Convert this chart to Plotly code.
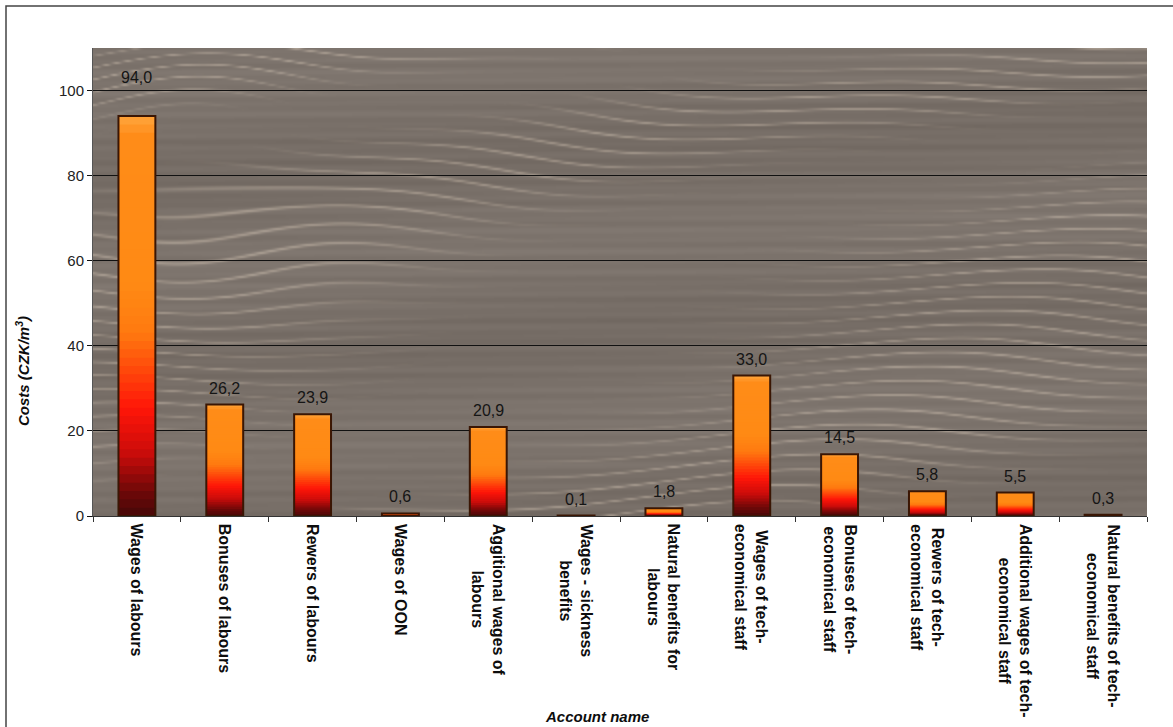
import base64
import struct
import zlib

import numpy as np
import plotly.graph_objects as go

# ---- data -------------------------------------------------------------
accounts = [
    "Wages of labours",
    "Bonuses of labours",
    "Rewers of labours",
    "Wages of OON",
    "Aggitional wages of\nlabours",
    "Wages - sickness\nbenefits",
    "Natural benefits for\nlabours",
    "Wages of tech-\neconomical staff",
    "Bonuses of tech-\neconomical staff",
    "Rewers of tech-\neconomical staff",
    "Additional wages of tech-\neconomical staff",
    "Natural benefits of tech-\neconomical staff",
]
costs = [94.0, 26.2, 23.9, 0.6, 20.9, 0.1, 1.8, 33.0, 14.5, 5.8, 5.5, 0.3]
y_ticks = [0, 20, 40, 60, 80, 100]

# ---- styling ----------------------------------------------------------
FONT = "Liberation Sans, Arial, sans-serif"
W, H = 1173, 727
M_L, M_R, M_T, M_B = 93, 26, 48, 211
PLOT_W = W - M_L - M_R
PLOT_H = H - M_T - M_B

# vertical colour ramp of each bar (fraction of bar height -> rgb)
ramp = [
    (0.00, (70, 8, 8)),
    (0.06, (110, 8, 8)),
    (0.16, (205, 12, 10)),
    (0.27, (255, 22, 8)),
    (0.36, (255, 70, 10)),
    (0.46, (255, 122, 16)),
    (0.58, (255, 138, 20)),
    (0.95, (255, 140, 24)),
    (1.00, (255, 165, 60)),
]


def ramp_color(t):
    for (t0, c0), (t1, c1) in zip(ramp[:-1], ramp[1:]):
        if t <= t1:
            u = (t - t0) / (t1 - t0) if t1 > t0 else 0
            c = [round(a + (b - a) * u) for a, b in zip(c0, c1)]
            return "rgb({},{},{})".format(*c)
    return "rgb({},{},{})".format(*ramp[-1][1])


def wood_texture(w, h):
    """Grey-brown wood grain used as the plot-area backdrop."""
    yy, xx = np.mgrid[0:h, 0:w].astype(float)
    xx *= 2.0
    yy *= 2.0
    phase = (yy
             + 9 * np.sin(xx / 170 + yy / 120)
             + 16 * np.sin(xx / 420 - yy / 260 + 1.3)
             + 5 * np.sin(xx / 61 + yy / 47)
             + 26 * np.exp(-((xx - 110) / 120) ** 2) * np.sin(yy / 60 + 0.5)) / 15.0
    streak = (0.5 + 0.5 * np.cos(2 * np.pi * phase)) ** 22
    env = np.clip(0.5 + 0.6 * np.sin(xx / 140 + yy / 37 + 2 * np.sin(yy / 90)), 0, 1) ** 1.3
    fine = 2.5 * np.sin(yy / 1.7 + xx / 260) + 2 * np.sin(yy / 3.1 - xx / 510)
    shade = 4 * np.sin(yy / 29 + xx / 420) + fine
    base = np.array([122, 113, 106], float)
    light = np.array([46, 43, 38], float)
    img = base[None, None, :] + (streak * env)[..., None] * light[None, None, :] + shade[..., None]
    img = np.clip(img, 0, 255).astype(np.uint8)
    raw = b"".join(b"\x00" + row.tobytes() for row in img)

    def chunk(tag, data):
        return (struct.pack(">I", len(data)) + tag + data
                + struct.pack(">I", zlib.crc32(tag + data) & 0xFFFFFFFF))

    png = (b"\x89PNG\r\n\x1a\n"
           + chunk(b"IHDR", struct.pack(">IIBBBBB", w, h, 8, 2, 0, 0, 0))
           + chunk(b"IDAT", zlib.compress(raw, 9))
           + chunk(b"IEND", b""))
    return "data:image/png;base64," + base64.b64encode(png).decode()


cats = [a.replace("\n", " ") for a in accounts]
vals = np.array(costs)

fig = go.Figure()

# gradient bars: stacked-in-place slices, tallest first, shorter ones drawn on top
N = 48
for k in range(N):
    f = 1 - k / N
    fig.add_trace(go.Bar(
        x=cats, y=vals * f,
        marker=dict(color=ramp_color(f - 0.5 / N), line=dict(width=0)),
        hoverinfo="skip", showlegend=False,
    ))

# dark outline around each bar
fig.add_trace(go.Bar(
    x=cats, y=vals,
    marker=dict(color="rgba(0,0,0,0)", line=dict(color="#3a1604", width=2)),
    showlegend=False,
    hovertemplate="%{x}: %{y:.1f}<extra></extra>",
))

annotations = []
# value labels
for c, v in zip(cats, costs):
    annotations.append(dict(
        x=c, y=v, xref="x", yref="y", yanchor="bottom", xanchor="center",
        text=f"{v:.1f}".replace(".", ","), showarrow=False,
        yshift=28 if v > 90 else 6,
        font=dict(family=FONT, size=16, color="#151515"),
    ))
# category labels, rotated
for c, a in zip(cats, accounts):
    annotations.append(dict(
        x=c, y=0, xref="x", yref="paper", yanchor="top", xanchor="center",
        text="<b>" + a.replace("\n", "<br>") + "</b>", showarrow=False,
        textangle=90, align="center", yshift=-6,
        font=dict(family=FONT, size=16, color="#0d0d0d"),
    ))
# axis titles
annotations.append(dict(
    x=(22 - M_L) / PLOT_W, y=(H - M_B - 371) / PLOT_H, xref="paper", yref="paper",
    xanchor="center", yanchor="middle",
    text="<b><i>Costs (CZK/m<sup>3</sup>)</i></b>", showarrow=False, textangle=-90,
    font=dict(family=FONT, size=15, color="#0d0d0d"),
))
annotations.append(dict(
    x=(597 - M_L) / PLOT_W, y=(H - M_B - 716) / PLOT_H, xref="paper", yref="paper",
    xanchor="center", yanchor="middle",
    text="<b><i>Account name</i></b>", showarrow=False,
    font=dict(family=FONT, size=15, color="#0d0d0d"),
))

fig.update_layout(
    width=W, height=H, autosize=False,
    margin=dict(l=M_L, r=M_R, t=M_T, b=M_B, pad=0),
    paper_bgcolor="white", plot_bgcolor="rgba(0,0,0,0)",
    barmode="overlay", bargap=0.58,
    font=dict(family=FONT, size=15, color="#222222"),
    annotations=annotations,
    images=[dict(
        source=wood_texture(PLOT_W // 2, PLOT_H // 2),
        xref="paper", yref="paper", x=0, y=1, sizex=1, sizey=1,
        xanchor="left", yanchor="top", sizing="stretch", layer="below",
    )],
    shapes=[dict(
        type="rect", xref="paper", yref="paper",
        x0=(6 - M_L) / PLOT_W, x1=1.2, y0=-1.0, y1=(H - M_B - 6) / PLOT_H,
        line=dict(color="#444444", width=1.5), fillcolor="rgba(0,0,0,0)",
        layer="above",
    )],
)

fig.update_xaxes(
    type="category", showticklabels=False, ticks="outside", tickson="boundaries",
    ticklen=5, tickcolor="#333333", showline=True, linecolor="#333333", linewidth=1,
    showgrid=False, fixedrange=True,
)
fig.update_yaxes(
    range=[0, 110], tickvals=y_ticks, ticks="outside", ticklen=5, tickcolor="#111111",
    showgrid=True, gridcolor="#111111", gridwidth=1, zeroline=False,
    showline=True, linecolor="#555555", linewidth=1,
    tickfont=dict(family=FONT, size=15, color="#222222"), fixedrange=True,
)

fig.write_html("out.html")
